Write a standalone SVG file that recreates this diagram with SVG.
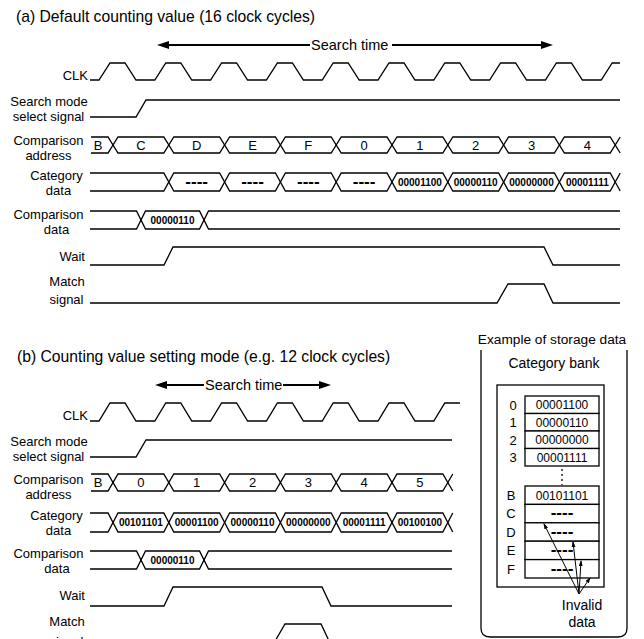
<svg xmlns="http://www.w3.org/2000/svg" width="644" height="639" viewBox="0 0 644 639">
<style>
text{font-family:"Liberation Sans",Arial,Helvetica,sans-serif;fill:#000}
.t{font-size:15.7px}
.st{font-size:14.5px}
.lm{font-size:13px;text-anchor:middle}
.le{font-size:13px;text-anchor:end}
.d{font-size:10px;font-weight:bold;text-anchor:middle}
.ds{font-size:17px;font-weight:bold;text-anchor:middle}
.s{font-size:12px;text-anchor:middle}
.w{fill:none;stroke:#000;stroke-width:1.3}
.ar{fill:none;stroke:#000;stroke-width:2}
.box{fill:#fff;stroke:#000;stroke-width:1.3}
.fr{fill:none;stroke:#000;stroke-width:1.3}
.thin{fill:none;stroke:#000;stroke-width:1}
</style>
<defs>
<marker id="ah" viewBox="0 0 12 8" refX="6" refY="4" markerWidth="12" markerHeight="8" orient="auto" markerUnits="userSpaceOnUse"><path d="M0,0 L12,4 L0,8 z" fill="#000"/></marker>
<marker id="sa" viewBox="0 0 6 4" refX="5" refY="2" markerWidth="6" markerHeight="4" orient="auto" markerUnits="userSpaceOnUse"><path d="M0,0 L6,2 L0,4 z" fill="#000"/></marker>
</defs>
<rect width="644" height="639" fill="#fff"/>

<!-- Part (a) -->
<g id="part-a">
<text class="t" x="16" y="22">(a) Default counting value (16 clock cycles)</text>
<g id="a-search-time">
<line class="ar" x1="310" y1="45" x2="163" y2="45" marker-end="url(#ah)"/>
<text class="st" x="311" y="50">Search time</text>
<line class="ar" x1="392" y1="45" x2="547" y2="45" marker-end="url(#ah)"/>
</g>
<g id="a-clk">
<text class="le" x="88" y="80">CLK</text>
<path class="w" d="M90,80 H99 L110,63 H125 L136,80 H154.8 L165.8,63 H180.8 L191.8,80 H210.6 L221.6,63 H236.6 L247.6,80 H266.4 L277.4,63 H292.4 L303.4,80 H322.2 L333.2,63 H348.2 L359.2,80 H378 L389,63 H404 L415,80 H433.8 L444.8,63 H459.8 L470.8,80 H489.6 L500.6,63 H515.6 L526.6,80 H545.4 L556.4,63 H571.4 L582.4,80 H601.2 L612.2,63 H620"/>
</g>
<g id="a-search-mode">
<text class="lm" x="49" y="106">Search mode</text>
<text class="lm" x="48.5" y="121">select signal</text>
<path class="w" d="M90,117 H136 L146,100 H620"/>
</g>
<g id="a-address">
<text class="lm" x="48.5" y="145">Comparison</text>
<text class="lm" x="48.5" y="160">address</text>
<path class="w" d="M91,137 H108 L118,153 H163.8 L173.8,137 H219.6 L229.6,153 H275.4 L285.4,137 H331.2 L341.2,153 H387 L397,137 H442.8 L452.8,153 H498.6 L508.6,137 H554.4 L564.4,153 H610.2 L620.2,137"/>
<path class="w" d="M91,153 H108 L118,137 H163.8 L173.8,153 H219.6 L229.6,137 H275.4 L285.4,153 H331.2 L341.2,137 H387 L397,153 H442.8 L452.8,137 H498.6 L508.6,153 H554.4 L564.4,137 H610.2 L620.2,153"/>
<text class="lm" x="98" y="150">B</text>
<text class="lm" x="140.9" y="150">C</text>
<text class="lm" x="196.7" y="150">D</text>
<text class="lm" x="252.5" y="150">E</text>
<text class="lm" x="308.3" y="150">F</text>
<text class="lm" x="364.1" y="150">0</text>
<text class="lm" x="419.9" y="150">1</text>
<text class="lm" x="475.7" y="150">2</text>
<text class="lm" x="531.5" y="150">3</text>
<text class="lm" x="587.3" y="150">4</text>
</g>
<g id="a-category">
<text class="lm" x="56.5" y="180">Category</text>
<text class="lm" x="58.5" y="195">data</text>
<path class="w" d="M90,173 H163.8 L173.8,191 H219.6 L229.6,173 H275.4 L285.4,191 H331.2 L341.2,173 H387 L397,191 H442.8 L452.8,173 H498.6 L508.6,191 H554.4 L564.4,173 H610.2 L620.2,191"/>
<path class="w" d="M90,191 H163.8 L173.8,173 H219.6 L229.6,191 H275.4 L285.4,173 H331.2 L341.2,191 H387 L397,173 H442.8 L452.8,191 H498.6 L508.6,173 H554.4 L564.4,191 H610.2 L620.2,173"/>
<text class="ds" x="196.7" y="187">----</text>
<text class="ds" x="252.5" y="187">----</text>
<text class="ds" x="308.3" y="187">----</text>
<text class="ds" x="364.1" y="187">----</text>
<text class="d" x="419.9" y="185.5">00001100</text>
<text class="d" x="475.7" y="185.5">00000110</text>
<text class="d" x="531.5" y="185.5">00000000</text>
<text class="d" x="587.3" y="185.5">00001111</text>
</g>
<g id="a-comparison-data">
<text class="lm" x="48.5" y="219">Comparison</text>
<text class="lm" x="56.5" y="234">data</text>
<path class="w" d="M90,211 H136.5 L145.5,229 H199.5 L208.5,211 H620"/>
<path class="w" d="M90,229 H136.5 L145.5,211 H199.5 L208.5,229 H620"/>
<text class="d" x="172.5" y="223.5">00000110</text>
</g>
<g id="a-wait">
<text class="le" x="85" y="261">Wait</text>
<path class="w" d="M90,265 H164 L173,247 H544 L553,265 H620"/>
</g>
<g id="a-match">
<text class="lm" x="67" y="286">Match</text>
<text class="lm" x="66.5" y="304">signal</text>
<path class="w" d="M90,303 H497 L508,284 H544 L553,303 H620"/>
</g>
</g>

<!-- Part (b) -->
<g id="part-b">
<text class="t" x="17" y="362">(b) Counting value setting mode (e.g. 12 clock cycles)</text>
<g id="b-search-time">
<line class="ar" x1="204" y1="385" x2="161" y2="385" marker-end="url(#ah)"/>
<text class="st" x="205" y="390">Search time</text>
<line class="ar" x1="283" y1="385" x2="325" y2="385" marker-end="url(#ah)"/>
</g>
<g id="b-clk">
<text class="le" x="88" y="420">CLK</text>
<path class="w" d="M90,421 H99 L110,403 H125 L136,421 H154.8 L165.8,403 H180.8 L191.8,421 H210.6 L221.6,403 H236.6 L247.6,421 H266.4 L277.4,403 H292.4 L303.4,421 H322.2 L333.2,403 H348.2 L359.2,421 H378 L389,403 H404 L415,421 H433.8 L444.8,403 H460"/>
</g>
<g id="b-search-mode">
<text class="lm" x="49" y="446">Search mode</text>
<text class="lm" x="48.5" y="461">select signal</text>
<path class="w" d="M90,457 H136 L146,440 H452"/>
</g>
<g id="b-address">
<text class="lm" x="48.5" y="484">Comparison</text>
<text class="lm" x="48.5" y="499">address</text>
<path class="w" d="M91,474 H108 L118,491 H163.8 L173.8,474 H219.6 L229.6,491 H275.4 L285.4,474 H331.2 L341.2,491 H387 L397,474 H442.8 L452.8,491"/>
<path class="w" d="M91,491 H108 L118,474 H163.8 L173.8,491 H219.6 L229.6,474 H275.4 L285.4,491 H331.2 L341.2,474 H387 L397,491 H442.8 L452.8,474"/>
<text class="lm" x="98" y="487">B</text>
<text class="lm" x="140.9" y="487">0</text>
<text class="lm" x="196.7" y="487">1</text>
<text class="lm" x="252.5" y="487">2</text>
<text class="lm" x="308.3" y="487">3</text>
<text class="lm" x="364.1" y="487">4</text>
<text class="lm" x="419.9" y="487">5</text>
</g>
<g id="b-category">
<text class="lm" x="56.5" y="520">Category</text>
<text class="lm" x="58.5" y="535">data</text>
<path class="w" d="M90,513 H108 L118,532 H163.8 L173.8,513 H219.6 L229.6,532 H275.4 L285.4,513 H331.2 L341.2,532 H387 L397,513 H442.8 L452.8,532"/>
<path class="w" d="M90,532 H108 L118,513 H163.8 L173.8,532 H219.6 L229.6,513 H275.4 L285.4,532 H331.2 L341.2,513 H387 L397,532 H442.8 L452.8,513"/>
<text class="d" x="140.9" y="526">00101101</text>
<text class="d" x="196.7" y="526">00001100</text>
<text class="d" x="252.5" y="526">00000110</text>
<text class="d" x="308.3" y="526">00000000</text>
<text class="d" x="364.1" y="526">00001111</text>
<text class="d" x="419.9" y="526">00100100</text>
</g>
<g id="b-comparison-data">
<text class="lm" x="48.5" y="558">Comparison</text>
<text class="lm" x="57" y="573">data</text>
<path class="w" d="M90,551 H136.5 L145.5,569 H199.5 L208.5,551 H452"/>
<path class="w" d="M90,569 H136.5 L145.5,551 H199.5 L208.5,569 H452"/>
<text class="d" x="172.5" y="563.5">00000110</text>
</g>
<g id="b-wait">
<text class="le" x="85" y="600">Wait</text>
<path class="w" d="M90,606 H164 L173,587 H322 L331,606 H452"/>
</g>
<g id="b-match">
<text class="lm" x="67" y="626">Match</text>
<text class="lm" x="66.5" y="646">signal</text>
<path class="w" d="M90,643 H274 L285,624 H321 L330,643 H452"/>
</g>
</g>

<!-- Storage data example -->
<g id="storage">
<text class="lm" x="552" y="344" style="font-size:13.7px">Example of storage data</text>
<path class="fr" d="M481,350 V628 Q481,637 490,637 H618 Q627,637 627,628 V350"/>
<text class="lm" x="554" y="368" style="font-size:14px">Category bank</text>
<g id="category-bank">
<rect class="box" x="497" y="385" width="107" height="202"/>
<rect class="box" x="525" y="396" width="74" height="17.5"/>
<rect class="box" x="525" y="413.5" width="74" height="17.5"/>
<rect class="box" x="525" y="431" width="74" height="17.5"/>
<rect class="box" x="525" y="448.5" width="74" height="17.5"/>
<text class="lm" x="513" y="409.5">0</text>
<text class="lm" x="513" y="427">1</text>
<text class="lm" x="513" y="444.5">2</text>
<text class="lm" x="513" y="462">3</text>
<text class="s" x="562" y="409">00001100</text>
<text class="s" x="562" y="426.5">00000110</text>
<text class="s" x="562" y="444">00000000</text>
<text class="s" x="562" y="461.5">00001111</text>
<line x1="562" y1="469" x2="562" y2="485" stroke="#000" stroke-width="1.3" stroke-dasharray="2,3"/>
<rect class="box" x="525" y="486" width="74" height="18.4"/>
<rect class="box" x="525" y="504.4" width="74" height="18.4"/>
<rect class="box" x="525" y="522.8" width="74" height="18.4"/>
<rect class="box" x="525" y="541.2" width="74" height="18.4"/>
<rect class="box" x="525" y="559.6" width="74" height="18.4"/>
<text class="lm" x="511" y="499.9">B</text>
<text class="lm" x="511" y="518.3">C</text>
<text class="lm" x="511" y="536.7">D</text>
<text class="lm" x="511" y="555.1">E</text>
<text class="lm" x="511" y="573.5">F</text>
<text class="s" x="562" y="499.5">00101101</text>
<text class="ds" x="562" y="518.4">----</text>
<text class="ds" x="562" y="536.8">----</text>
<text class="ds" x="562" y="555.2">----</text>
<text class="ds" x="562" y="573.6">----</text>
</g>
<text class="lm" x="582" y="610" style="font-size:14px">Invalid</text>
<text class="lm" x="582" y="627" style="font-size:14px">data</text>
</g>

<g id="connectors">
<line class="thin" x1="579" y1="594" x2="544" y2="524" marker-end="url(#sa)"/>
<line class="thin" x1="579" y1="594" x2="573" y2="542" marker-end="url(#sa)"/>
<line class="thin" x1="579" y1="594" x2="581" y2="561" marker-end="url(#sa)"/>
<line class="thin" x1="579" y1="594" x2="590" y2="578" marker-end="url(#sa)"/>
</g>
</svg>
